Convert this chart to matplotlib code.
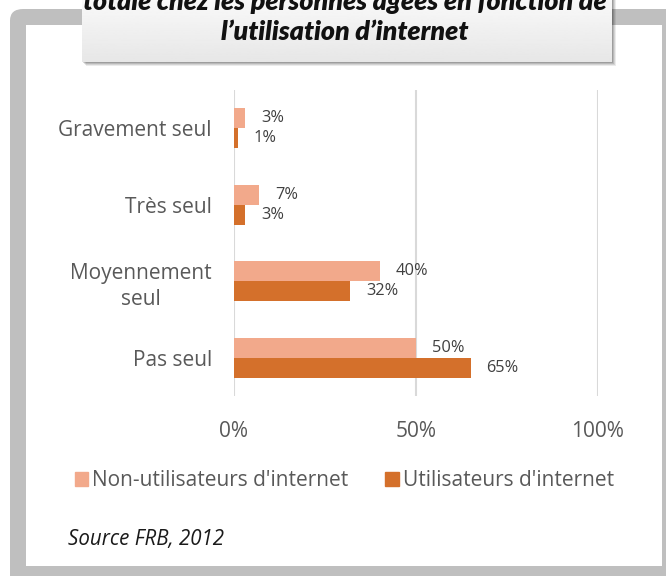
import numpy as np
import matplotlib.pyplot as plt
from matplotlib.patches import FancyBboxPatch, Rectangle, Patch

# Data
categories = ['Pas seul', 'Moyennement\nseul', 'Très seul', 'Gravement seul']
non_users = [50, 40, 7, 3]
users = [65, 32, 3, 1]
series_names = ["Non-utilisateurs d'internet", "Utilisateurs d'internet"]
xticks = [0, 50, 100]
xtick_labels = ['0%', '50%', '100%']

LIGHT = '#F2A98B'
DARK = '#D4702B'
TEXT = '#595959'

plt.rcParams['font.family'] = ['Open Sans', 'DejaVu Sans']

W, H = 666, 576
fig = plt.figure(figsize=(W / 100, H / 100), dpi=100)
fig.patch.set_facecolor('white')


def fx(px):
    return px / W


def fy(py):
    return 1 - py / H


# gray frame around the chart
frame = FancyBboxPatch((fx(10), fy(590)), fx(680), fy(9) - fy(590),
                       boxstyle='round,pad=0,rounding_size=0.02',
                       transform=fig.transFigure, facecolor='#BFBFBF',
                       edgecolor='none', zorder=0)
fig.patches.append(frame)
inner = Rectangle((fx(26), fy(566)), fx(662) - fx(26), fy(25) - fy(566),
                  transform=fig.transFigure, facecolor='white',
                  edgecolor='none', zorder=1)
fig.patches.append(inner)

# chart
ax = fig.add_axes([fx(234), fy(396), fx(598) - fx(234), fy(90) - fy(396)], zorder=3)
ax.set_facecolor('none')
y = np.arange(len(categories))
h = 0.26
b1 = ax.barh(y + h / 2, non_users, height=h, color=LIGHT, label=series_names[0], zorder=3)
b2 = ax.barh(y - h / 2, users, height=h, color=DARK, label=series_names[1], zorder=3)

for bars, vals in ((b1, non_users), (b2, users)):
    for bar, v in zip(bars, vals):
        ax.annotate(f'{v}%', (bar.get_width(), bar.get_y() + bar.get_height() / 2),
                    xytext=(11.5, 0), textcoords='offset points',
                    ha='left', va='center', fontsize=11.8, color='#404040')

ax.set_xlim(0, 100)
ax.set_ylim(-0.5, len(categories) - 0.5)
ax.set_xticks(xticks)
ax.set_xticklabels(xtick_labels, fontsize=15, color=TEXT)
ax.set_yticks(y)
ax.set_yticklabels(categories, fontsize=15, color=TEXT,
                   multialignment='center', linespacing=1.3)
ax.tick_params(length=0)
ax.tick_params(axis='x', pad=18)
ax.tick_params(axis='y', pad=16)
ax.xaxis.grid(True, color='#D9D9D9', linewidth=1.5, zorder=0)
for s in ax.spines.values():
    s.set_visible(False)

ax.legend(handles=[Patch(color=LIGHT), Patch(color=DARK)], labels=series_names,
          loc='center left', bbox_to_anchor=(fx(56), fy(481)),
          bbox_transform=fig.transFigure, ncol=2, frameon=False,
          fontsize=15, handlelength=0.65, handleheight=0.65,
          handletextpad=0.2, columnspacing=1.75, labelcolor=TEXT)

fig.text(fx(68), fy(540), 'Source FRB, 2012', fontsize=14.8, style='italic',
         color='#1a1a1a', va='center', ha='left', zorder=5)

# title box with shadow and gradient
for i, a in enumerate([0.08, 0.1, 0.12, 0.15]):
    d = 4 - i
    sh = Rectangle((fx(82 + d), fy(62 + d)), fx(612) - fx(82), fy(-10) - fy(62),
                   transform=fig.transFigure, facecolor='black', alpha=a,
                   edgecolor='none', zorder=6)
    fig.patches.append(sh)
tax = fig.add_axes([fx(82), fy(62), fx(612) - fx(82), fy(-10) - fy(62)], zorder=7)
grad = np.linspace(0.985, 0.905, 100).reshape(-1, 1)
tax.imshow(grad, aspect='auto', cmap='gray', vmin=0, vmax=1, extent=(0, 1, 0, 1))
tax.set_axis_off()
title_font = ['Lato', 'DejaVu Sans']
fig.text(fx(345), fy(2), 'totale chez les personnes âgées en fonction de',
         fontsize=19.3, fontweight='heavy', style='italic', color='#111111',
         family=title_font, ha='center', va='center', zorder=8)
fig.text(fx(345), fy(32), 'l’utilisation d’internet',
         fontsize=19.3, fontweight='heavy', style='italic', color='#111111',
         family=title_font, ha='center', va='center', zorder=8)

fig.savefig('out.png', dpi=100)
